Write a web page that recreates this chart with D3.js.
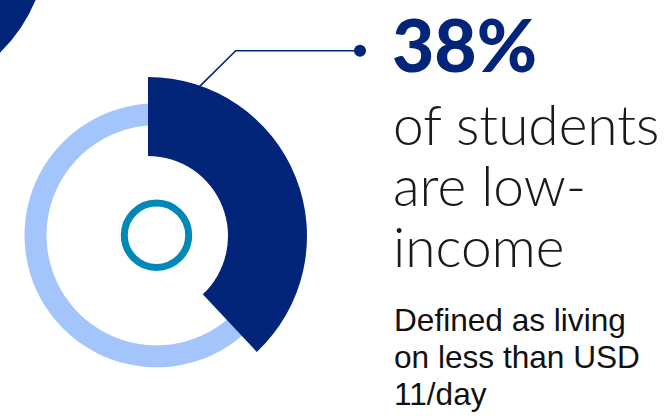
<!DOCTYPE html>
<html>
<head>
<meta charset="utf-8">
<script src="https://cdn.jsdelivr.net/npm/d3@7"></script>
<style>
  html, body { margin: 0; padding: 0; background: #fff; }
  svg { display: block; }
</style>
</head>
<body>
<div id="chart"></div>
<script>
// data
var categories = ["Low-income", "Other"];
var shares = [38, 62];
var headline = "38%";
var subLines = ["of students", "are low-", "income"];
var noteLines = ["Defined as living", "on less than USD", "11/day"];

var width = 668, height = 416;
var navy = "#02257a", light = "#a3c5fc", teal = "#0088b8";

var svg = d3.select("#chart")
    .append("svg")
    .attr("width", width)
    .attr("height", height);

svg.append("rect")
    .attr("width", width)
    .attr("height", height)
    .attr("fill", "#fff");

// decorative circle in the top-left corner
svg.append("circle")
    .attr("cx", -110)
    .attr("cy", -60)
    .attr("r", 157.5)
    .attr("fill", navy);

var pie = d3.pie().sort(null).value(function (d) { return d; });
var slices = pie(shares);

// light ring (rest of the students)
var ringArc = d3.arc().innerRadius(110).outerRadius(132);
svg.append("g")
    .attr("transform", "translate(156.5,235.3)")
    .selectAll("path")
    .data(slices.filter(function (d, i) { return categories[i] == "Other"; }))
    .enter()
    .append("path")
    .attr("d", ringArc)
    .attr("fill", light);

// centre ring
svg.append("circle")
    .attr("cx", 156.5)
    .attr("cy", 235.3)
    .attr("r", 32.2)
    .attr("fill", "none")
    .attr("stroke", teal)
    .attr("stroke-width", 7);

// highlighted slice
var bigArc = d3.arc().innerRadius(80).outerRadius(159);
var gBig = svg.append("g")
    .attr("transform", "translate(148,236)");
gBig.selectAll("path")
    .data(slices.filter(function (d, i) { return categories[i] == "Low-income"; }))
    .enter()
    .append("path")
    .attr("d", bigArc)
    .attr("fill", navy);

// leader line from the slice to the label
var leadAngle = 19 * Math.PI / 180;
var x0 = 148 + 158 * Math.sin(leadAngle), y0 = 236 - 158 * Math.cos(leadAngle);
svg.append("polyline")
    .attr("points", [[x0, y0], [235.7, 50.7], [360, 50.7]].map(function (p) { return p.join(","); }).join(" "))
    .attr("fill", "none")
    .attr("stroke", navy)
    .attr("stroke-width", 1.6);
svg.append("circle")
    .attr("cx", 360)
    .attr("cy", 50.7)
    .attr("r", 6)
    .attr("fill", navy);

// texts
svg.append("text")
    .attr("x", 392)
    .attr("y", 72)
    .attr("font-family", "Lato")
    .attr("font-weight", 900)
    .attr("font-size", 73)
    .attr("fill", navy)
    .text(headline);

svg.selectAll(".sub")
    .data(subLines)
    .enter()
    .append("text")
    .attr("class", "sub")
    .attr("x", 393)
    .attr("y", function (d, i) { return 145 + i * 60.8; })
    .attr("font-family", "Lato")
    .attr("font-weight", 300)
    .attr("font-size", 55)
    .attr("fill", "#1a1a1a")
    .text(function (d) { return d; });

svg.selectAll(".note")
    .data(noteLines)
    .enter()
    .append("text")
    .attr("class", "note")
    .attr("x", 394)
    .attr("y", function (d, i) { return 331 + i * 37; })
    .attr("font-family", "Liberation Sans, Arial, sans-serif")
    .attr("font-size", 31.6)
    .attr("fill", "#111")
    .text(function (d) { return d; });
</script>
</body>
</html>
